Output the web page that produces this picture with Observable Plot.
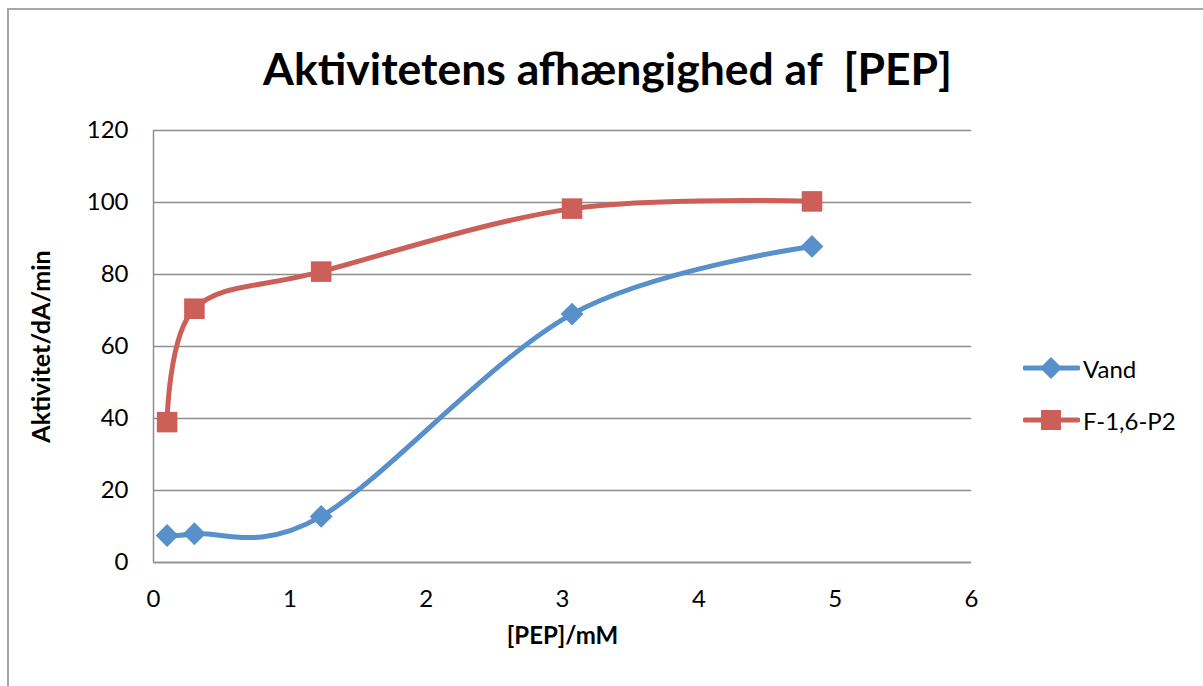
<!DOCTYPE html>
<html><head><meta charset="utf-8">
<script src="https://cdn.jsdelivr.net/npm/d3@7"></script>
<script src="https://cdn.jsdelivr.net/npm/@observablehq/plot@0.6"></script>
<style>
body{margin:0;overflow:hidden;background:#fff;font-family:Lato,"Open Sans",sans-serif}
#wrap{position:relative;width:1203px;height:686px;overflow:hidden}
#frame{position:absolute;left:7px;top:8px;width:1300px;height:800px;border:2px solid #a6a6a6}
#title{position:absolute;left:0;width:1215px;top:40px;text-align:center;font-weight:bold;font-size:44.5px;line-height:56px;color:#000}
#chart{position:absolute;left:0;top:0}
#legend{position:absolute;left:1023px;top:354px;font-size:24px;color:#000}
.lg{display:flex;align-items:center;height:28px;margin-bottom:24px}
.lg svg{margin-right:3px}
</style></head>
<body><div id="wrap"><div id="frame"></div><div id="chart"></div><div id="title">Aktivitetens afhængighed af&nbsp; [PEP]</div><div id="legend"></div></div>
<script>
// Data
const pep = [0.1, 0.3, 1.23, 3.07, 4.83];
const vand = [7.5, 8, 12.8, 69, 87.8];
const f16p2 = [39, 70.5, 80.8, 98.3, 100.3];
const seriesNames = ["Vand", "F-1,6-P2"];
const seriesColors = ["#5890CB", "#CC5F57"];
const yTicks = [0, 20, 40, 60, 80, 100, 120];
const xTicks = [0, 1, 2, 3, 4, 5, 6];
const xLabel = "[PEP]/mM";
const yLabel = "Aktivitet/dA/min";

const vandRows = pep.map((x, i) => ({x, y: vand[i], s: seriesNames[0]}));
const fRows = pep.map((x, i) => ({x, y: f16p2[i], s: seriesNames[1]}));
const rows = vandRows.concat(fRows);

const chart = Plot.plot({
  width: 1203,
  height: 686,
  marginLeft: 153,
  marginRight: 232,
  marginTop: 130,
  marginBottom: 124,
  style: {fontFamily: "Lato, 'Open Sans', sans-serif", fontSize: "24px", color: "#000", background: "transparent"},
  x: {domain: [0, 6]},
  y: {domain: [0, 120]},
  color: {domain: seriesNames, range: seriesColors},
  marks: [
    Plot.gridY(yTicks, {stroke: "#8e8e8e", strokeOpacity: 1, strokeWidth: 1.5}),
    Plot.ruleX([0], {stroke: "#8e8e8e", strokeWidth: 1.5}),
    Plot.ruleY([0], {stroke: "#8e8e8e", strokeWidth: 1.5}),
    Plot.axisY(yTicks, {tickSize: 0, tickPadding: 25, label: null, fill: "#000", tickFormat: "d"}),
    Plot.axisX(xTicks, {tickSize: 0, tickPadding: 27, label: null, fill: "#000", tickFormat: "d"}),
    Plot.line(rows, {x: "x", y: "y", z: "s", stroke: "s", strokeWidth: 5, curve: "cardinal"}),
    Plot.dot(vandRows, {x: "x", y: "y", fill: "s", symbol: "diamond2", r: 10.3}),
    Plot.dot(fRows, {x: "x", y: "y", fill: "s", symbol: "square", r: 11.6}),
    Plot.text([xLabel], {frameAnchor: "bottom", dy: 74, textAnchor: "middle", lineAnchor: "middle", fontWeight: "bold", fontSize: 24, fill: "#000"}),
    Plot.text([yLabel], {frameAnchor: "left", dx: -112, rotate: -90, textAnchor: "middle", lineAnchor: "middle", fontWeight: "bold", fontSize: 25, fill: "#000"})
  ]
});
document.getElementById("chart").appendChild(chart);

// Legend
const leg = document.getElementById("legend");
seriesNames.forEach((name, i) => {
  const row = document.createElement("div");
  row.className = "lg";
  const c = seriesColors[i];
  const marker = i === 0
    ? `<polygon points="28,3 39,14 28,25 17,14" fill="${c}"/>`
    : `<rect x="18" y="4" width="20" height="20" fill="${c}"/>`;
  row.innerHTML = `<svg width="57" height="28"><line x1="2" y1="14" x2="55" y2="14" stroke="${c}" stroke-width="5" stroke-linecap="round"/>${marker}</svg><span>${name}</span>`;
  leg.appendChild(row);
});
</script>
</body></html>
